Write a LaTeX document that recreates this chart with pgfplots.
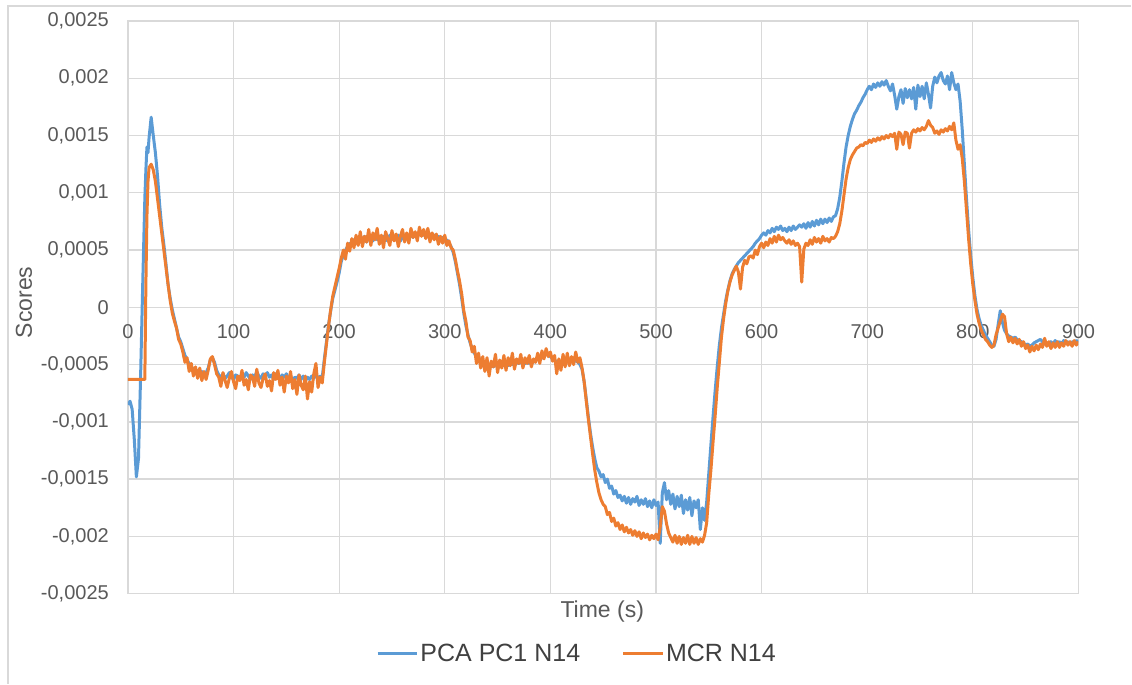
\documentclass[border=0pt]{standalone}
\usepackage{pgfplots}
\usepackage{pgfplotstable}
\pgfplotsset{compat=1.18}
\usepackage{fontspec}
\setmainfont{Liberation Sans}
\definecolor{pcablue}{HTML}{5B9BD5}
\definecolor{mcrorange}{HTML}{ED7D31}
\definecolor{gridgray}{HTML}{D9D9D9}
\definecolor{labelgray}{HTML}{595959}
\definecolor{legtext}{HTML}{404040}

% scores in units of 1e-4
\pgfplotstableread{
t pca mcr
0 -8.5 -6.3
2 -8.2 -6.3
4 -8.9 -6.3
6 -11.5 -6.3
8 -14.8 -6.3
10 -13.2 -6.3
12 -6.0 -6.3
14 2.0 -6.3
16 9.5 -6.3
17 12.0 2.0
18 14.0 8.0
19 13.5 11.0
20 14.8 12.2
22 16.6 12.5
24 15.0 12.0
26 13.5 11.0
28 11.5 9.5
30 9.0 8.0
32 7.0 6.5
34 5.5 5.0
36 3.8 3.5
38 2.0 2.0
40 0.8 0.6
42 -0.2 -0.5
44 -1.0 -1.2
46 -1.8 -1.8
48 -2.6 -2.8
50 -3.0 -3.2
52 -3.6 -3.9
54 -4.2 -4.8
56 -4.6 -4.4
58 -4.9 -5.6
60 -5.2 -4.9
62 -5.4 -6.0
64 -5.6 -5.2
66 -5.5 -6.2
68 -5.8 -5.3
70 -5.6 -6.4
72 -5.9 -5.6
74 -5.7 -6.3
76 -5.3 -5.5
78 -4.6 -4.5
80 -4.4 -4.3
82 -4.8 -5.0
84 -5.5 -5.8
86 -5.9 -6.1
88 -6.1 -6.9
90 -5.8 -5.7
92 -6.2 -6.4
94 -6.0 -7.0
96 -5.7 -6.2
98 -6.1 -5.6
100 -6.3 -6.5
102 -5.9 -7.1
104 -6.0 -6.0
106 -6.2 -6.4
108 -5.8 -5.5
110 -6.1 -6.8
112 -5.7 -6.3
114 -6.0 -7.2
116 -6.3 -5.9
118 -5.9 -6.1
120 -6.1 -6.9
122 -5.6 -5.4
124 -6.0 -6.6
126 -6.2 -7.0
128 -5.8 -6.2
130 -6.0 -5.8
132 -5.7 -6.9
134 -6.1 -6.4
136 -5.9 -7.3
138 -6.3 -5.7
140 -5.8 -6.3
142 -6.0 -5.5
144 -6.2 -6.8
146 -5.9 -6.1
148 -6.1 -7.4
150 -5.8 -6.0
152 -6.2 -6.6
154 -6.0 -5.6
156 -6.4 -7.1
158 -6.1 -6.3
160 -6.2 -7.6
162 -5.9 -5.9
164 -6.3 -6.8
166 -6.0 -7.2
168 -6.4 -6.0
170 -6.1 -8.0
172 -6.3 -6.5
174 -6.0 -7.4
176 -6.2 -5.8
178 -5.9 -4.9
180 -6.2 -7.0
182 -6.0 -6.1
184 -6.1 -6.6
186 -4.5 -4.8
188 -3.0 -3.2
190 -1.5 -1.6
192 -0.3 -0.2
194 0.8 1.0
196 1.5 1.8
198 2.2 2.6
200 3.0 3.4
202 4.0 4.3
204 4.6 5.0
206 5.0 4.2
208 5.3 5.6
210 5.6 4.9
212 5.5 6.0
214 5.9 5.2
216 5.6 6.3
218 6.0 5.4
220 5.8 6.6
222 5.9 5.3
224 6.2 6.2
226 5.7 5.7
228 6.1 6.8
230 6.0 5.4
232 5.8 6.5
234 6.3 5.9
236 5.9 6.9
238 6.1 5.5
240 5.7 6.3
242 6.2 5.2
244 6.0 6.6
246 5.8 6.0
248 6.3 5.4
250 6.1 6.7
252 5.9 5.8
254 6.0 6.4
256 6.3 5.3
258 5.8 6.2
260 6.1 6.8
262 6.3 5.7
264 6.0 6.5
266 6.2 5.6
268 6.4 6.9
270 6.1 6.1
272 6.5 6.6
274 6.2 5.8
276 6.4 7.0
278 6.6 6.2
280 6.3 6.8
282 6.5 6.0
284 6.2 6.9
286 6.4 5.7
288 6.1 6.5
290 6.3 5.9
292 6.0 6.4
294 6.2 5.5
296 5.9 6.2
298 6.1 5.6
300 5.8 6.3
302 5.9 5.4
304 5.6 5.8
306 5.3 5.2
308 4.8 5.0
310 4.0 4.2
312 3.0 3.2
314 2.0 2.3
316 0.8 1.2
318 -0.5 -0.3
320 -1.6 -1.2
322 -2.4 -2.6
324 -3.1 -2.9
326 -3.6 -3.9
328 -4.0 -3.4
330 -4.3 -4.9
332 -4.4 -4.0
334 -4.6 -5.3
336 -4.7 -4.3
338 -4.9 -5.6
340 -5.0 -4.4
342 -5.1 -6.0
344 -5.0 -4.7
346 -5.2 -5.2
348 -5.0 -4.1
350 -5.1 -5.7
352 -5.2 -4.6
354 -5.0 -5.3
356 -5.1 -4.2
358 -5.0 -5.5
360 -5.1 -4.4
362 -4.9 -5.1
364 -5.0 -4.0
366 -4.9 -5.4
368 -4.8 -4.5
370 -4.9 -4.9
372 -4.8 -4.1
374 -5.0 -5.3
376 -4.9 -4.4
378 -4.8 -4.9
380 -4.9 -4.2
382 -4.7 -5.2
384 -4.8 -4.5
386 -4.6 -4.8
388 -4.5 -4.0
390 -4.6 -4.9
392 -4.4 -3.8
394 -4.2 -4.5
396 -4.1 -3.6
398 -4.2 -4.3
400 -4.3 -3.9
402 -4.5 -4.7
404 -4.6 -4.2
406 -4.8 -5.8
408 -4.9 -4.5
410 -4.8 -5.5
412 -4.7 -4.1
414 -4.8 -5.2
416 -4.7 -4.0
418 -4.8 -5.1
420 -4.7 -4.3
422 -4.8 -5.0
424 -4.6 -3.9
426 -4.8 -4.8
428 -5.0 -4.4
430 -5.4 -5.3
432 -6.5 -6.5
434 -8.0 -8.2
436 -9.6 -9.8
438 -11.0 -11.3
440 -12.2 -12.8
442 -13.2 -14.2
444 -14.0 -15.3
446 -14.3 -16.2
448 -14.8 -16.8
450 -14.6 -17.2
452 -15.3 -17.4
454 -15.0 -18.1
456 -15.8 -17.9
458 -15.6 -18.7
460 -16.3 -18.4
462 -16.0 -19.1
464 -16.6 -18.8
466 -16.4 -19.4
468 -16.9 -19.0
470 -16.5 -19.6
472 -17.1 -19.2
474 -16.6 -19.7
476 -17.2 -19.4
478 -16.7 -19.9
480 -17.0 -19.5
482 -16.5 -20.0
484 -17.3 -19.6
486 -16.8 -20.2
488 -17.2 -19.7
490 -16.7 -20.1
492 -17.4 -19.8
494 -16.9 -20.3
496 -17.5 -19.9
498 -16.8 -20.2
500 -17.3 -19.8
502 -17.0 -20.3
504 -20.6 -19.2
506 -16.2 -17.4
508 -15.3 -17.8
510 -16.8 -18.9
512 -16.0 -19.7
514 -17.2 -20.1
516 -16.3 -20.5
518 -17.6 -19.9
520 -16.5 -20.6
522 -17.4 -20.0
524 -16.4 -20.7
526 -18.0 -20.1
528 -16.8 -20.6
530 -17.7 -19.9
532 -16.6 -20.7
534 -18.2 -20.0
536 -16.9 -20.6
538 -17.5 -20.1
540 -16.8 -20.7
542 -19.4 -20.2
544 -17.5 -20.5
546 -18.6 -19.9
548 -17.0 -18.8
550 -14.5 -16.3
552 -12.0 -14.2
554 -9.6 -11.8
556 -7.3 -9.5
558 -5.2 -7.0
560 -3.3 -4.8
562 -1.8 -2.6
564 -0.6 -1.0
566 0.6 0.3
568 1.5 1.4
570 2.3 2.2
572 2.9 2.8
574 3.3 3.2
576 3.6 3.6
578 3.9 3.1
580 4.1 1.6
582 4.3 3.5
584 4.5 4.1
586 4.7 3.8
588 4.9 4.4
590 5.1 4.5
592 5.3 4.3
594 5.6 5.0
596 5.8 4.6
598 6.0 5.3
600 6.3 5.6
602 6.5 5.2
604 6.3 5.7
606 6.7 5.4
608 6.5 6.0
610 6.9 5.6
612 6.6 6.2
614 7.0 5.7
616 6.8 6.3
618 7.1 5.9
620 6.7 6.1
622 6.9 5.8
624 6.6 5.6
626 7.0 5.9
628 6.7 5.5
630 7.1 5.8
632 6.8 5.4
634 7.0 5.6
636 7.2 5.3
638 7.0 2.2
640 7.3 5.1
642 6.9 5.6
644 7.4 5.4
646 7.0 5.9
648 7.5 5.5
650 7.1 6.1
652 7.6 5.7
654 7.2 6.0
656 7.7 5.6
658 7.3 6.2
660 7.7 5.8
662 7.4 6.0
664 7.8 5.7
666 7.5 6.1
668 7.9 6.0
670 8.0 6.2
672 8.6 6.6
674 9.6 7.3
676 11.0 8.4
678 12.6 9.8
680 14.0 11.2
682 15.0 12.2
684 15.8 12.9
686 16.4 13.3
688 16.9 13.6
690 17.2 13.9
692 17.6 14.0
694 17.9 14.2
696 18.3 14.1
698 18.6 14.4
700 19.0 14.3
702 19.3 14.6
704 19.0 14.4
706 19.5 14.7
708 19.2 14.5
710 19.6 14.8
712 19.3 14.6
714 19.7 14.9
716 19.4 14.7
718 19.8 15.0
720 19.3 14.8
722 18.9 15.1
724 19.5 14.9
726 18.5 15.2
728 17.3 13.8
730 18.4 15.3
732 19.0 15.1
734 17.8 14.2
736 19.1 15.3
738 18.3 15.2
740 19.0 13.9
742 18.2 15.2
744 19.2 15.5
746 17.3 15.3
748 19.4 15.6
750 18.4 15.4
752 19.3 15.7
754 18.2 15.5
756 19.6 15.8
758 18.6 16.3
760 17.4 15.9
762 19.3 15.7
764 20.1 15.2
766 19.6 15.4
768 20.2 15.1
770 20.5 15.5
772 19.8 15.3
774 19.5 15.6
776 20.2 15.4
778 19.0 15.8
780 20.5 15.5
782 19.6 16.1
784 19.0 14.6
786 19.5 13.8
788 18.0 14.2
790 15.5 13.0
792 12.5 11.0
794 9.5 8.5
796 6.8 6.0
798 4.5 3.8
800 2.6 2.0
802 1.0 0.6
804 -0.2 -0.6
806 -1.0 -1.4
808 -1.6 -2.0
810 -2.0 -2.4
812 -2.4 -2.8
814 -2.7 -3.0
816 -3.0 -3.3
818 -3.3 -3.5
820 -3.4 -3.3
822 -2.8 -2.4
824 -1.5 -1.8
826 -0.3 -1.2
828 -1.3 -0.6
830 -2.0 -0.8
832 -2.3 -2.3
834 -2.5 -3.0
836 -2.6 -2.6
838 -2.7 -3.1
840 -2.6 -2.7
842 -2.8 -3.2
844 -2.9 -2.8
846 -3.0 -3.4
848 -3.1 -3.0
850 -3.3 -3.6
852 -3.2 -3.3
854 -3.4 -3.9
856 -3.3 -3.4
858 -3.1 -3.8
860 -3.0 -3.3
862 -2.9 -3.7
864 -2.8 -3.2
866 -3.0 -3.5
868 -3.2 -2.7
870 -3.1 -3.4
872 -3.3 -3.0
874 -3.0 -3.6
876 -3.2 -3.1
878 -2.9 -3.5
880 -3.1 -3.0
882 -3.0 -3.5
884 -3.2 -3.1
886 -2.9 -3.4
888 -3.1 -2.9
890 -3.0 -3.3
892 -3.2 -3.0
894 -3.0 -3.4
896 -3.1 -2.9
898 -2.9 -3.3
900 -3.0 -3.0
}\scores

\begin{document}
\begin{tikzpicture}[x=1pt,y=1pt]
\path (0,0) rectangle (1132,684);
\draw[gridgray, line width=1.2pt] (8,0) -- (8,678) -- (1132,678);
\begin{axis}[
  at={(128pt,90pt)}, anchor=south west,
  scale only axis, width=951pt, height=573pt,
  xmin=0, xmax=900, ymin=-25, ymax=25,
  xtick={0,100,...,900},
  ytick={-25,-20,-15,-10,-5,0,5,10,15,20,25},
  yticklabels={{-0,0025},{-0,002},{-0,0015},{-0,001},{-0,0005},{0},{0,0005},{0,001},{0,0015},{0,002},{0,0025}},
  xticklabels={0,100,200,300,400,500,600,700,800,900},
  major tick length=0pt,
  grid=major,
  major grid style={gridgray, line width=1.3pt},
  axis line style={gridgray, line width=1.3pt},
  tick label style={font=\fontsize{20}{24}\selectfont, text=labelgray, inner sep=0pt},
  xticklabel style={yshift=269.7pt},
  yticklabel style={xshift=-19pt},
  xlabel={Time (s)},
  ylabel={Scores},
  label style={font=\fontsize{23}{27}\selectfont, text=labelgray},
  xlabel style={at={(axis description cs:0.499,-0.0314)}, anchor=center},
  ylabel style={at={(axis description cs:-0.1094,0.5087)}, anchor=center},
  legend columns=2,
  legend style={at={(axis description cs:0.4721,-0.1038)}, anchor=center, draw=none, fill=none,
     font=\fontsize{25}{30}\selectfont, text=legtext,
     /tikz/every even column/.append style={column sep=40pt},
     nodes={inner sep=1.5pt}},
  legend image code/.code={\draw[#1, line width=3pt] (0pt,0pt) -- (40pt,0pt);},
]
\addplot[pcablue, line width=3pt, line join=round] table[x=t, y=pca] {\scores};
\addlegendentry{PCA PC1 N14}
\addplot[mcrorange, line width=3pt, line join=round] table[x=t, y=mcr] {\scores};
\addlegendentry{MCR N14}
\end{axis}
\end{tikzpicture}
\end{document}
